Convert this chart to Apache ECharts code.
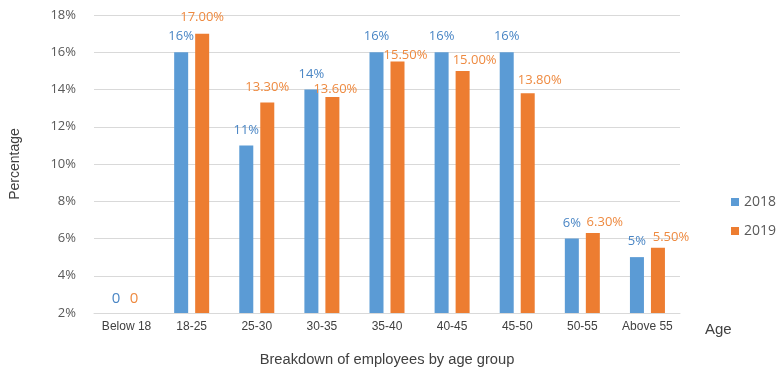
<!DOCTYPE html>
<html>
<head>
<meta charset="utf-8">
<script src="https://cdn.jsdelivr.net/npm/echarts@6/dist/echarts.min.js"></script>
<style>
  html, body { margin: 0; padding: 0; background: #fff; }
  #chart { width: 782px; height: 372px; }
</style>
</head>
<body>
<div id="chart"></div>
<script>
// Age groups along the category axis
const categories = ['Below 18', '18-25', '25-30', '30-35', '35-40', '40-45', '45-50', '50-55', 'Above 55'];
// Share of employees per age group, in percent
const values2018 = [0, 16, 11, 14, 16, 16, 16, 6, 5];
const values2019 = [0, 17, 13.3, 13.6, 15.5, 15, 13.8, 6.3, 5.5];
const seriesNames = ['2018', '2019'];
const yTicks = { min: 2, max: 18, interval: 2 };

// Nudges [dx, dy] in pixels for the 2019 value labels so they clear the 2018 labels
const label2019Nudge = [[-3, 0], [0, -1], [0, 0], [3, 8], [8, 9], [12, 5], [12, 3], [12, 5], [13, 5]];

const FONT = '"Liberation Sans", Arial, sans-serif';
const LABEL_FONT = '"Open Sans", "Liberation Sans", sans-serif';

function fmt2018(p) { return p.value === 0 ? '0' : p.value + '%'; }
function fmt2019(p) { return p.value === 0 ? '0' : p.value.toFixed(2) + '%'; }

const data2018 = values2018.map(v => ({
  value: v,
  label: v === 0 ? { fontSize: 15, offset: [0, 2] } : {}
}));
const data2019 = values2019.map((v, i) => ({
  value: v,
  label: v === 0
    ? { fontSize: 15, offset: [label2019Nudge[i][0], 2] }
    : { offset: label2019Nudge[i] }
}));

const chart = echarts.init(document.getElementById('chart'), null, { renderer: 'canvas' });
chart.setOption({
  animation: false,
  backgroundColor: '#ffffff',
  grid: { left: 90, right: 102, top: 15, bottom: 56 },
  legend: {
    orient: 'vertical',
    left: 726,
    top: 190,
    itemWidth: 8,
    itemHeight: 8,
    itemGap: 15,
    icon: 'rect',
    textStyle: { fontFamily: LABEL_FONT, fontSize: 14, color: '#595959' },
    data: seriesNames
  },
  xAxis: {
    type: 'category',
    data: categories,
    name: 'Breakdown of employees by age group',
    nameLocation: 'middle',
    nameGap: 39,
    nameTextStyle: { fontFamily: FONT, fontSize: 14.7, color: '#404040' },
    axisLine: { lineStyle: { color: '#d9d9d9', width: 1 } },
    axisTick: { show: false },
    axisLabel: { fontFamily: FONT, fontSize: 12, color: '#404040', margin: 8, interval: 0 }
  },
  yAxis: {
    type: 'value',
    min: yTicks.min,
    max: yTicks.max,
    interval: yTicks.interval,
    startValue: yTicks.min,
    name: 'Percentage',
    nameLocation: 'middle',
    nameGap: 72,
    nameRotate: 90,
    nameTextStyle: { fontFamily: FONT, fontSize: 14, color: '#404040' },
    axisLine: { show: false },
    axisTick: { show: false },
    splitLine: { lineStyle: { color: '#d9d9d9', width: 1 } },
    axisLabel: {
      fontFamily: LABEL_FONT, fontSize: 13, color: '#595959', margin: 18,
      formatter: v => v + '%'
    }
  },
  graphic: [{
    type: 'text',
    left: 705,
    top: 322,
    style: { text: 'Age', font: '15px ' + FONT, fill: '#404040' }
  }],
  series: [
    {
      name: seriesNames[0],
      type: 'bar',
      data: data2018,
      barWidth: 14,
      barGap: '50%',
      itemStyle: { color: '#5b9bd5' },
      label: {
        show: true, position: 'top', distance: 9,
        fontFamily: LABEL_FONT, fontSize: 13, color: '#4a86c5',
        formatter: fmt2018
      }
    },
    {
      name: seriesNames[1],
      type: 'bar',
      data: data2019,
      barWidth: 14,
      itemStyle: { color: '#ed7d31' },
      label: {
        show: true, position: 'top', distance: 9,
        fontFamily: LABEL_FONT, fontSize: 13, color: '#ee8a40',
        formatter: fmt2019
      }
    }
  ]
});
</script>
</body>
</html>
